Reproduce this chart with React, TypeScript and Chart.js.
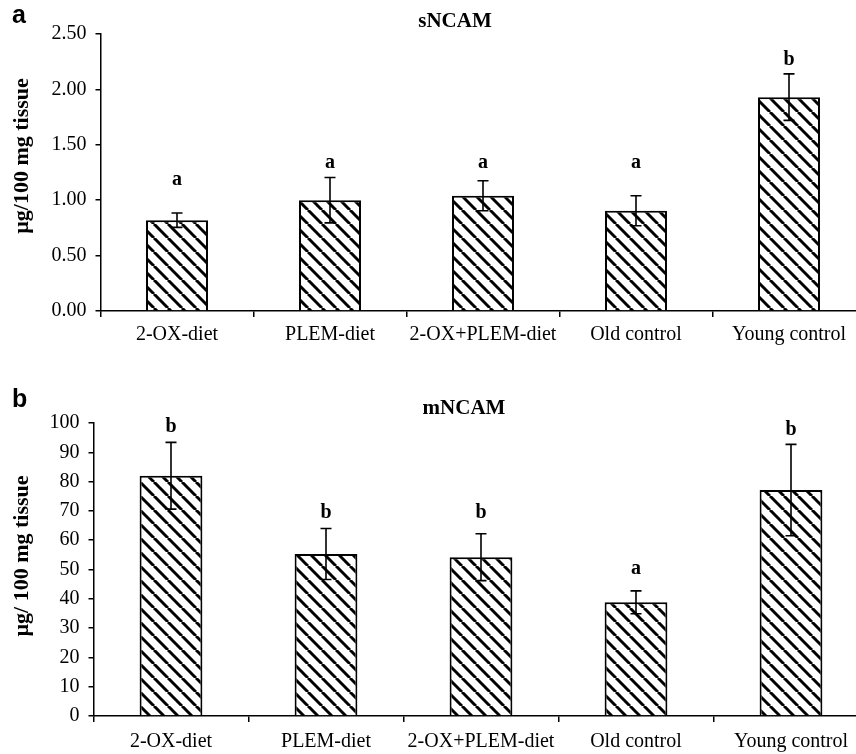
import React, { useEffect, useRef } from "react";
import { Chart, registerables } from "chart.js";

Chart.register(...registerables);

const categories = ["2-OX-diet", "PLEM-diet", "2-OX+PLEM-diet", "Old control", "Young control"];

const sNcamValues = [0.82, 1.0, 1.04, 0.905, 1.93];
const sNcamErrors = [0.065, 0.205, 0.135, 0.135, 0.21];
const sNcamLetters = ["a", "a", "a", "a", "b"];
const sNcamLetterY = [1.137, 1.29, 1.29, 1.29, 2.22];
const sNcamTicks = { min: 0, max: 2.5, step: 0.5 };

const mNcamValues = [82, 55.3, 54.2, 38.8, 77.1];
const mNcamErrors = [11.4, 8.7, 8.0, 3.9, 15.6];
const mNcamLetters = ["b", "b", "b", "a", "b"];
const mNcamLetterY = [96.9, 67.6, 67.6, 48.5, 95.9];
const mNcamTicks = { min: 0, max: 100, step: 10 };

const SERIF = "'Liberation Serif', 'Times New Roman', serif";
const SANS = "'Liberation Sans', Arial, sans-serif";

function makeHatch(): CanvasPattern | string {
  const s = 14;
  const c = document.createElement("canvas");
  c.width = s;
  c.height = s;
  const g = c.getContext("2d");
  if (!g) return "#fff";
  g.fillStyle = "#fff";
  g.fillRect(0, 0, s, s);
  g.strokeStyle = "#000";
  g.lineWidth = 3;
  for (const o of [-s, 0, s]) {
    g.beginPath();
    g.moveTo(o, 0);
    g.lineTo(o + s, s);
    g.stroke();
  }
  return g.createPattern(c, "repeat") || "#fff";
}

type PanelCfg = {
  values: number[];
  errors: number[];
  letters: string[];
  letterY: number[];
  ticks: { min: number; max: number; step: number };
  decimals: number;
  title: string;
  titleX: number;
  titleY: number;
  panel: string;
  panelY: number;
  yTitle: string;
  yTitleY: number;
  width: number;
  height: number;
  padTop: number;
  padRight: number;
  yWidth: number;
  xHeight: number;
  xPad: number;
};

function Panel({ cfg }: { cfg: PanelCfg }) {
  const ref = useRef<HTMLCanvasElement>(null);
  useEffect(() => {
    const canvas = ref.current;
    if (!canvas) return;
    const hatch = makeHatch();
    const annot = {
      id: "annot",
      afterDatasetsDraw(chart: any) {
        const ctx = chart.ctx as CanvasRenderingContext2D;
        const meta = chart.getDatasetMeta(0);
        const y = chart.scales.y;
        ctx.save();
        ctx.strokeStyle = "#000";
        ctx.lineWidth = 1.6;
        meta.data.forEach((bar: any, i: number) => {
          const x = bar.x;
          const v = cfg.values[i];
          const e = cfg.errors[i];
          const yt = y.getPixelForValue(v + e);
          const yb = y.getPixelForValue(v - e);
          ctx.beginPath();
          ctx.moveTo(x, yt);
          ctx.lineTo(x, yb);
          ctx.moveTo(x - 5.5, yt);
          ctx.lineTo(x + 5.5, yt);
          ctx.moveTo(x - 5.5, yb);
          ctx.lineTo(x + 5.5, yb);
          ctx.stroke();
          ctx.fillStyle = "#000";
          ctx.font = `bold 20px ${SERIF}`;
          ctx.textAlign = "center";
          ctx.textBaseline = "alphabetic";
          ctx.fillText(cfg.letters[i], x, y.getPixelForValue(cfg.letterY[i]));
        });
        ctx.fillStyle = "#000";
        ctx.font = `bold 21px ${SERIF}`;
        ctx.textAlign = "center";
        ctx.textBaseline = "alphabetic";
        ctx.fillText(cfg.title, cfg.titleX, cfg.titleY);
        ctx.font = `bold 25px ${SANS}`;
        ctx.textAlign = "left";
        ctx.fillText(cfg.panel, 12, cfg.panelY);
        ctx.save();
        ctx.translate(22, cfg.yTitleY);
        ctx.rotate(-Math.PI / 2);
        ctx.font = `bold 22px ${SERIF}`;
        ctx.textAlign = "center";
        ctx.textBaseline = "middle";
        ctx.fillText(cfg.yTitle, 0, 0);
        ctx.restore();
        ctx.restore();
      },
    };
    const chart = new Chart(canvas, {
      type: "bar",
      data: {
        labels: categories,
        datasets: [
          {
            data: cfg.values,
            backgroundColor: hatch as any,
            borderColor: "#000",
            borderWidth: 2,
            categoryPercentage: 1,
            barPercentage: 0.405,
          },
        ],
      },
      options: {
        responsive: false,
        animation: false,
        devicePixelRatio: 1,
        layout: { padding: { top: cfg.padTop, right: cfg.padRight, left: 0, bottom: 0 } },
        plugins: { legend: { display: false }, tooltip: { enabled: false }, title: { display: false } },
        scales: {
          x: {
            type: "category",
            offset: true,
            grid: {
              offset: true,
              drawOnChartArea: false,
              drawTicks: true,
              tickLength: 6,
              color: "#000",
              lineWidth: 1.5,
            },
            border: { display: true, color: "#000", width: 1.5 },
            ticks: {
              autoSkip: false,
              maxRotation: 0,
              minRotation: 0,
              padding: cfg.xPad,
              color: "#000",
              font: { family: SERIF, size: 20 },
            },
            afterFit: (scale: any) => {
              scale.height = cfg.xHeight;
            },
          },
          y: {
            min: cfg.ticks.min,
            max: cfg.ticks.max,
            grid: {
              drawOnChartArea: false,
              drawTicks: true,
              tickLength: 5,
              color: "#000",
              lineWidth: 1.5,
            },
            border: { display: true, color: "#000", width: 1.5 },
            ticks: {
              stepSize: cfg.ticks.step,
              padding: 9,
              color: "#000",
              font: { family: SERIF, size: 20 },
              callback: (v: any) => Number(v).toFixed(cfg.decimals),
            },
            afterFit: (scale: any) => {
              scale.width = cfg.yWidth;
            },
          },
        },
      },
      plugins: [annot],
    });
    return () => chart.destroy();
  }, [cfg]);
  return (
    <canvas
      ref={ref}
      width={cfg.width}
      height={cfg.height}
      style={{ display: "block", width: cfg.width, height: cfg.height }}
    />
  );
}

const topCfg: PanelCfg = {
  values: sNcamValues,
  errors: sNcamErrors,
  letters: sNcamLetters,
  letterY: sNcamLetterY,
  ticks: sNcamTicks,
  decimals: 2,
  title: "sNCAM",
  titleX: 455,
  titleY: 27,
  panel: "a",
  panelY: 23,
  yTitle: "µg/100 mg tissue",
  yTitleY: 156,
  width: 880,
  height: 370,
  padTop: 34,
  padRight: 14.5,
  yWidth: 100.5,
  xHeight: 59,
  xPad: 6,
};

const bottomCfg: PanelCfg = {
  values: mNcamValues,
  errors: mNcamErrors,
  letters: mNcamLetters,
  letterY: mNcamLetterY,
  ticks: mNcamTicks,
  decimals: 0,
  title: "mNCAM",
  titleX: 464,
  titleY: 44,
  panel: "b",
  panelY: 37,
  yTitle: "µg/ 100 mg tissue",
  yTitleY: 186,
  width: 880,
  height: 384,
  padTop: 53,
  padRight: 11.5,
  yWidth: 93.5,
  xHeight: 38,
  xPad: 8,
};

export default function App() {
  return (
    <div
      style={{
        position: "absolute",
        left: 0,
        top: 0,
        width: 856,
        height: 754,
        overflow: "hidden",
        background: "#fff",
      }}
    >
      <Panel cfg={topCfg} />
      <Panel cfg={bottomCfg} />
    </div>
  );
}
